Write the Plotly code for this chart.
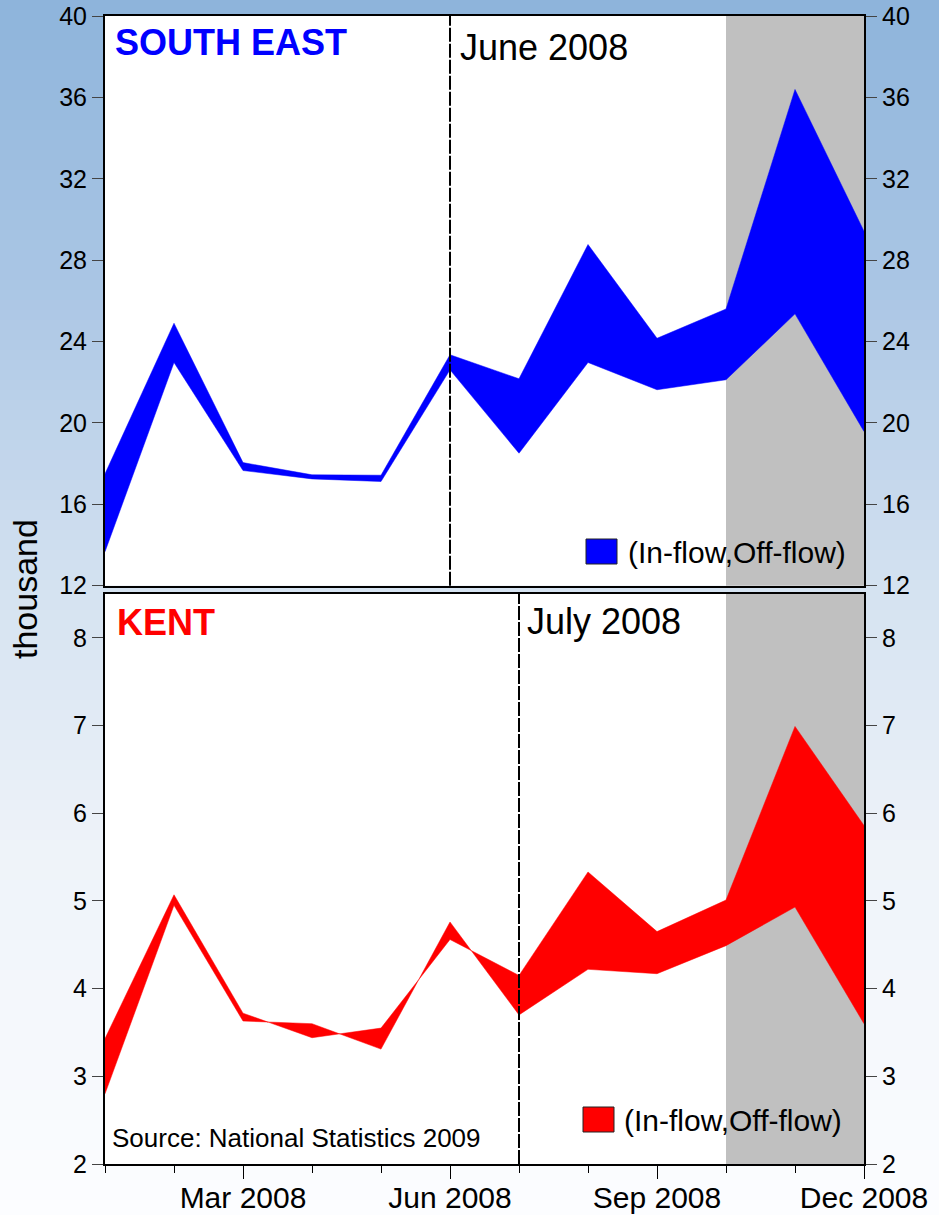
import plotly.graph_objects as go

# ---------------- data ----------------
months = ["Jan 2008", "Feb 2008", "Mar 2008", "Apr 2008", "May 2008", "Jun 2008",
          "Jul 2008", "Aug 2008", "Sep 2008", "Oct 2008", "Nov 2008", "Dec 2008"]
se_in = [17.5, 24.9, 18.05, 17.45, 17.43, 23.35, 22.17, 28.77, 24.16, 25.60, 36.39, 29.42]
se_off = [13.67, 22.97, 17.66, 17.25, 17.12, 22.61, 18.51, 22.97, 21.63, 22.12, 25.36, 19.58]
kent_in = [3.43, 5.07, 3.72, 3.44, 3.55, 4.56, 4.15, 5.33, 4.65, 5.01, 6.99, 5.86]
kent_off = [2.80, 4.95, 3.63, 3.60, 3.31, 4.76, 3.70, 4.22, 4.17, 4.49, 4.93, 3.60]
major_ticks = ["Mar 2008", "Jun 2008", "Sep 2008", "Dec 2008"]
shade_start, shade_end = "Oct 2008", "Dec 2008"
se_event, kent_event = "Jun 2008", "Jul 2008"
se_yticks = [12, 16, 20, 24, 28, 32, 36, 40]
kent_yticks = [2, 3, 4, 5, 6, 7, 8]

idx = {m: i for i, m in enumerate(months)}
xs = list(range(len(months)))

W, H = 939, 1215
ML, MR, MT, MB = 105, 75, 16, 51
PW, PH = W - ML - MR, H - MT - MB
FONT = "Arial, Liberation Sans, Helvetica, sans-serif"


def px_x(p):
    return (p - ML) / PW


def px_y(p):
    return (H - MB - p) / PH


top_dom = [px_y(585.7), 1.0]
bot_dom = [0.0, px_y(594)]

fig = go.Figure()

# South East band
fig.add_trace(go.Scatter(x=xs, y=se_off, mode="lines", line=dict(color="#0000FF", width=0.5),
                         xaxis="x", yaxis="y", showlegend=False, hoverinfo="skip"))
fig.add_trace(go.Scatter(x=xs, y=se_in, mode="lines", line=dict(color="#0000FF", width=0.5),
                         fill="tonexty", fillcolor="#0000FF",
                         xaxis="x", yaxis="y", showlegend=False, hoverinfo="skip"))
# Kent band
fig.add_trace(go.Scatter(x=xs, y=kent_off, mode="lines", line=dict(color="#FF0000", width=0.5),
                         xaxis="x2", yaxis="y2", showlegend=False, hoverinfo="skip"))
fig.add_trace(go.Scatter(x=xs, y=kent_in, mode="lines", line=dict(color="#FF0000", width=0.5),
                         fill="tonexty", fillcolor="#FF0000",
                         xaxis="x2", yaxis="y2", showlegend=False, hoverinfo="skip"))
# invisible traces for right-hand axes
fig.add_trace(go.Scatter(x=xs, y=se_in, mode="lines", line=dict(width=0), opacity=0,
                         xaxis="x", yaxis="y3", showlegend=False, hoverinfo="skip"))
fig.add_trace(go.Scatter(x=xs, y=kent_in, mode="lines", line=dict(width=0), opacity=0,
                         xaxis="x2", yaxis="y4", showlegend=False, hoverinfo="skip"))

shapes = []
# background gradient
stops = [(0, (141, 180, 219)), (300, (172, 199, 229)), (600, (214, 227, 241)),
         (850, (238, 243, 249)), (1215, (252, 253, 255))]


def col_at(p):
    for (a, ca), (b, cb) in zip(stops[:-1], stops[1:]):
        if a <= p <= b:
            t = (p - a) / (b - a)
            c = [round(ca[k] + (cb[k] - ca[k]) * t) for k in range(3)]
            return "rgb(%d,%d,%d)" % tuple(c)
    return "rgb(252,253,255)"


step = 10
for p in range(0, H, step):
    shapes.append(dict(type="rect", xref="paper", yref="paper",
                       x0=px_x(0), x1=px_x(W), y0=px_y(p + step + 1), y1=px_y(p),
                       fillcolor=col_at(p + step / 2), line=dict(width=0), layer="below"))

# white plot areas
for xr, yr in (("x", "y"), ("x2", "y2")):
    shapes.append(dict(type="rect", xref=xr + " domain", yref=yr + " domain",
                       x0=0, x1=1, y0=0, y1=1, fillcolor="white",
                       line=dict(width=0), layer="below"))
# grey shaded periods
for xr, yr in (("x", "y"), ("x2", "y2")):
    shapes.append(dict(type="rect", xref=xr, yref=yr + " domain",
                       x0=idx[shade_start], x1=idx[shade_end], y0=0, y1=1,
                       fillcolor="#C0C0C0", line=dict(width=0), layer="below"))
# event lines
for xr, yr, ev in (("x", "y", se_event), ("x2", "y2", kent_event)):
    shapes.append(dict(type="line", xref=xr, yref=yr + " domain",
                       x0=idx[ev], x1=idx[ev], y0=0, y1=1,
                       line=dict(color="black", width=2, dash="14px,2px"), layer="above"))

# legend swatches
shapes.append(dict(type="rect", xref="paper", yref="paper",
                   x0=px_x(586), x1=px_x(617), y0=px_y(564), y1=px_y(539),
                   fillcolor="#0000FF", line=dict(color="#222222", width=1), layer="above"))
shapes.append(dict(type="rect", xref="paper", yref="paper",
                   x0=px_x(583), x1=px_x(614), y0=px_y(1132), y1=px_y(1107),
                   fillcolor="#FF0000", line=dict(color="#222222", width=1), layer="above"))

annotations = [
    dict(text="<b>SOUTH EAST</b>", x=px_x(113), y=px_y(42), xref="paper", yref="paper",
         xanchor="left", yanchor="middle", showarrow=False,
         font=dict(family=FONT, size=36, color="#0000FF")),
    dict(text="June 2008", x=px_x(458), y=px_y(48), xref="paper", yref="paper",
         xanchor="left", yanchor="middle", showarrow=False,
         font=dict(family=FONT, size=36, color="black")),
    dict(text="<b>KENT</b>", x=px_x(115), y=px_y(623), xref="paper", yref="paper",
         xanchor="left", yanchor="middle", showarrow=False,
         font=dict(family=FONT, size=36, color="#FF0000")),
    dict(text="July 2008", x=px_x(525), y=px_y(621), xref="paper", yref="paper",
         xanchor="left", yanchor="middle", showarrow=False,
         font=dict(family=FONT, size=36, color="black")),
    dict(text="(In-flow,Off-flow)", x=px_x(626), y=px_y(552), xref="paper", yref="paper",
         xanchor="left", yanchor="middle", showarrow=False,
         font=dict(family=FONT, size=30, color="black")),
    dict(text="(In-flow,Off-flow)", x=px_x(622), y=px_y(1120), xref="paper", yref="paper",
         xanchor="left", yanchor="middle", showarrow=False,
         font=dict(family=FONT, size=30, color="black")),
    dict(text="Source: National Statistics 2009", x=px_x(110), y=px_y(1138), xref="paper", yref="paper",
         xanchor="left", yanchor="middle", showarrow=False,
         font=dict(family=FONT, size=26, color="black")),
    dict(text="thousand", x=px_x(25), y=px_y(589), xref="paper", yref="paper",
         xanchor="center", yanchor="middle", textangle=-90, showarrow=False,
         font=dict(family=FONT, size=34, color="black")),
]

axis_common = dict(showgrid=False, zeroline=False, showline=True, linecolor="black",
                   linewidth=2, automargin=False)
ytick_common = dict(ticks="outside", ticklen=11, tickwidth=1, tickcolor="#444444",
                    tickfont=dict(family=FONT, size=25, color="black"))

fig.update_layout(
    width=W, height=H, autosize=False,
    margin=dict(l=ML, r=MR, t=MT, b=MB, pad=0, autoexpand=False),
    paper_bgcolor="white", plot_bgcolor="rgba(0,0,0,0)",
    showlegend=False, hovermode=False,
    shapes=shapes, annotations=annotations,
    xaxis=dict(domain=[0, 1], anchor="y", range=[0, len(months) - 1], mirror=True,
               ticks="", showticklabels=False, **axis_common),
    yaxis=dict(domain=top_dom, anchor="x", range=[se_yticks[0], se_yticks[-1]],
               tickvals=se_yticks, mirror=True, **axis_common, **ytick_common),
    yaxis3=dict(overlaying="y", side="right", anchor="x", range=[se_yticks[0], se_yticks[-1]],
                tickvals=se_yticks, **axis_common, **ytick_common),
    xaxis2=dict(domain=[0, 1], anchor="y2", range=[0, len(months) - 1], mirror=True,
                tickmode="array", tickvals=[idx[m] for m in major_ticks], ticktext=major_ticks,
                ticks="outside", ticklen=13, tickwidth=1, tickcolor="black",
                ticklabelstandoff=-7,
                tickfont=dict(family=FONT, size=30, color="black"),
                minor=dict(tickmode="array", tickvals=xs, ticks="outside", ticklen=7,
                           tickwidth=1, tickcolor="black"),
                **axis_common),
    yaxis2=dict(domain=bot_dom, anchor="x2", range=[2, 8.5], tickvals=kent_yticks,
                mirror=True, **axis_common, **ytick_common),
    yaxis4=dict(overlaying="y2", side="right", anchor="x2", range=[2, 8.5],
                tickvals=kent_yticks, **axis_common, **ytick_common),
)

post = ("document.documentElement.style.margin='0';document.body.style.margin='0';"
        "document.body.style.padding='0';document.body.style.overflow='hidden';"
        "var gd=document.getElementById('{plot_id}');"
        "gd.style.position='absolute';gd.style.left='0px';gd.style.top='0px';")

fig.write_html("out.html", config=dict(displayModeBar=False), post_script=post)
